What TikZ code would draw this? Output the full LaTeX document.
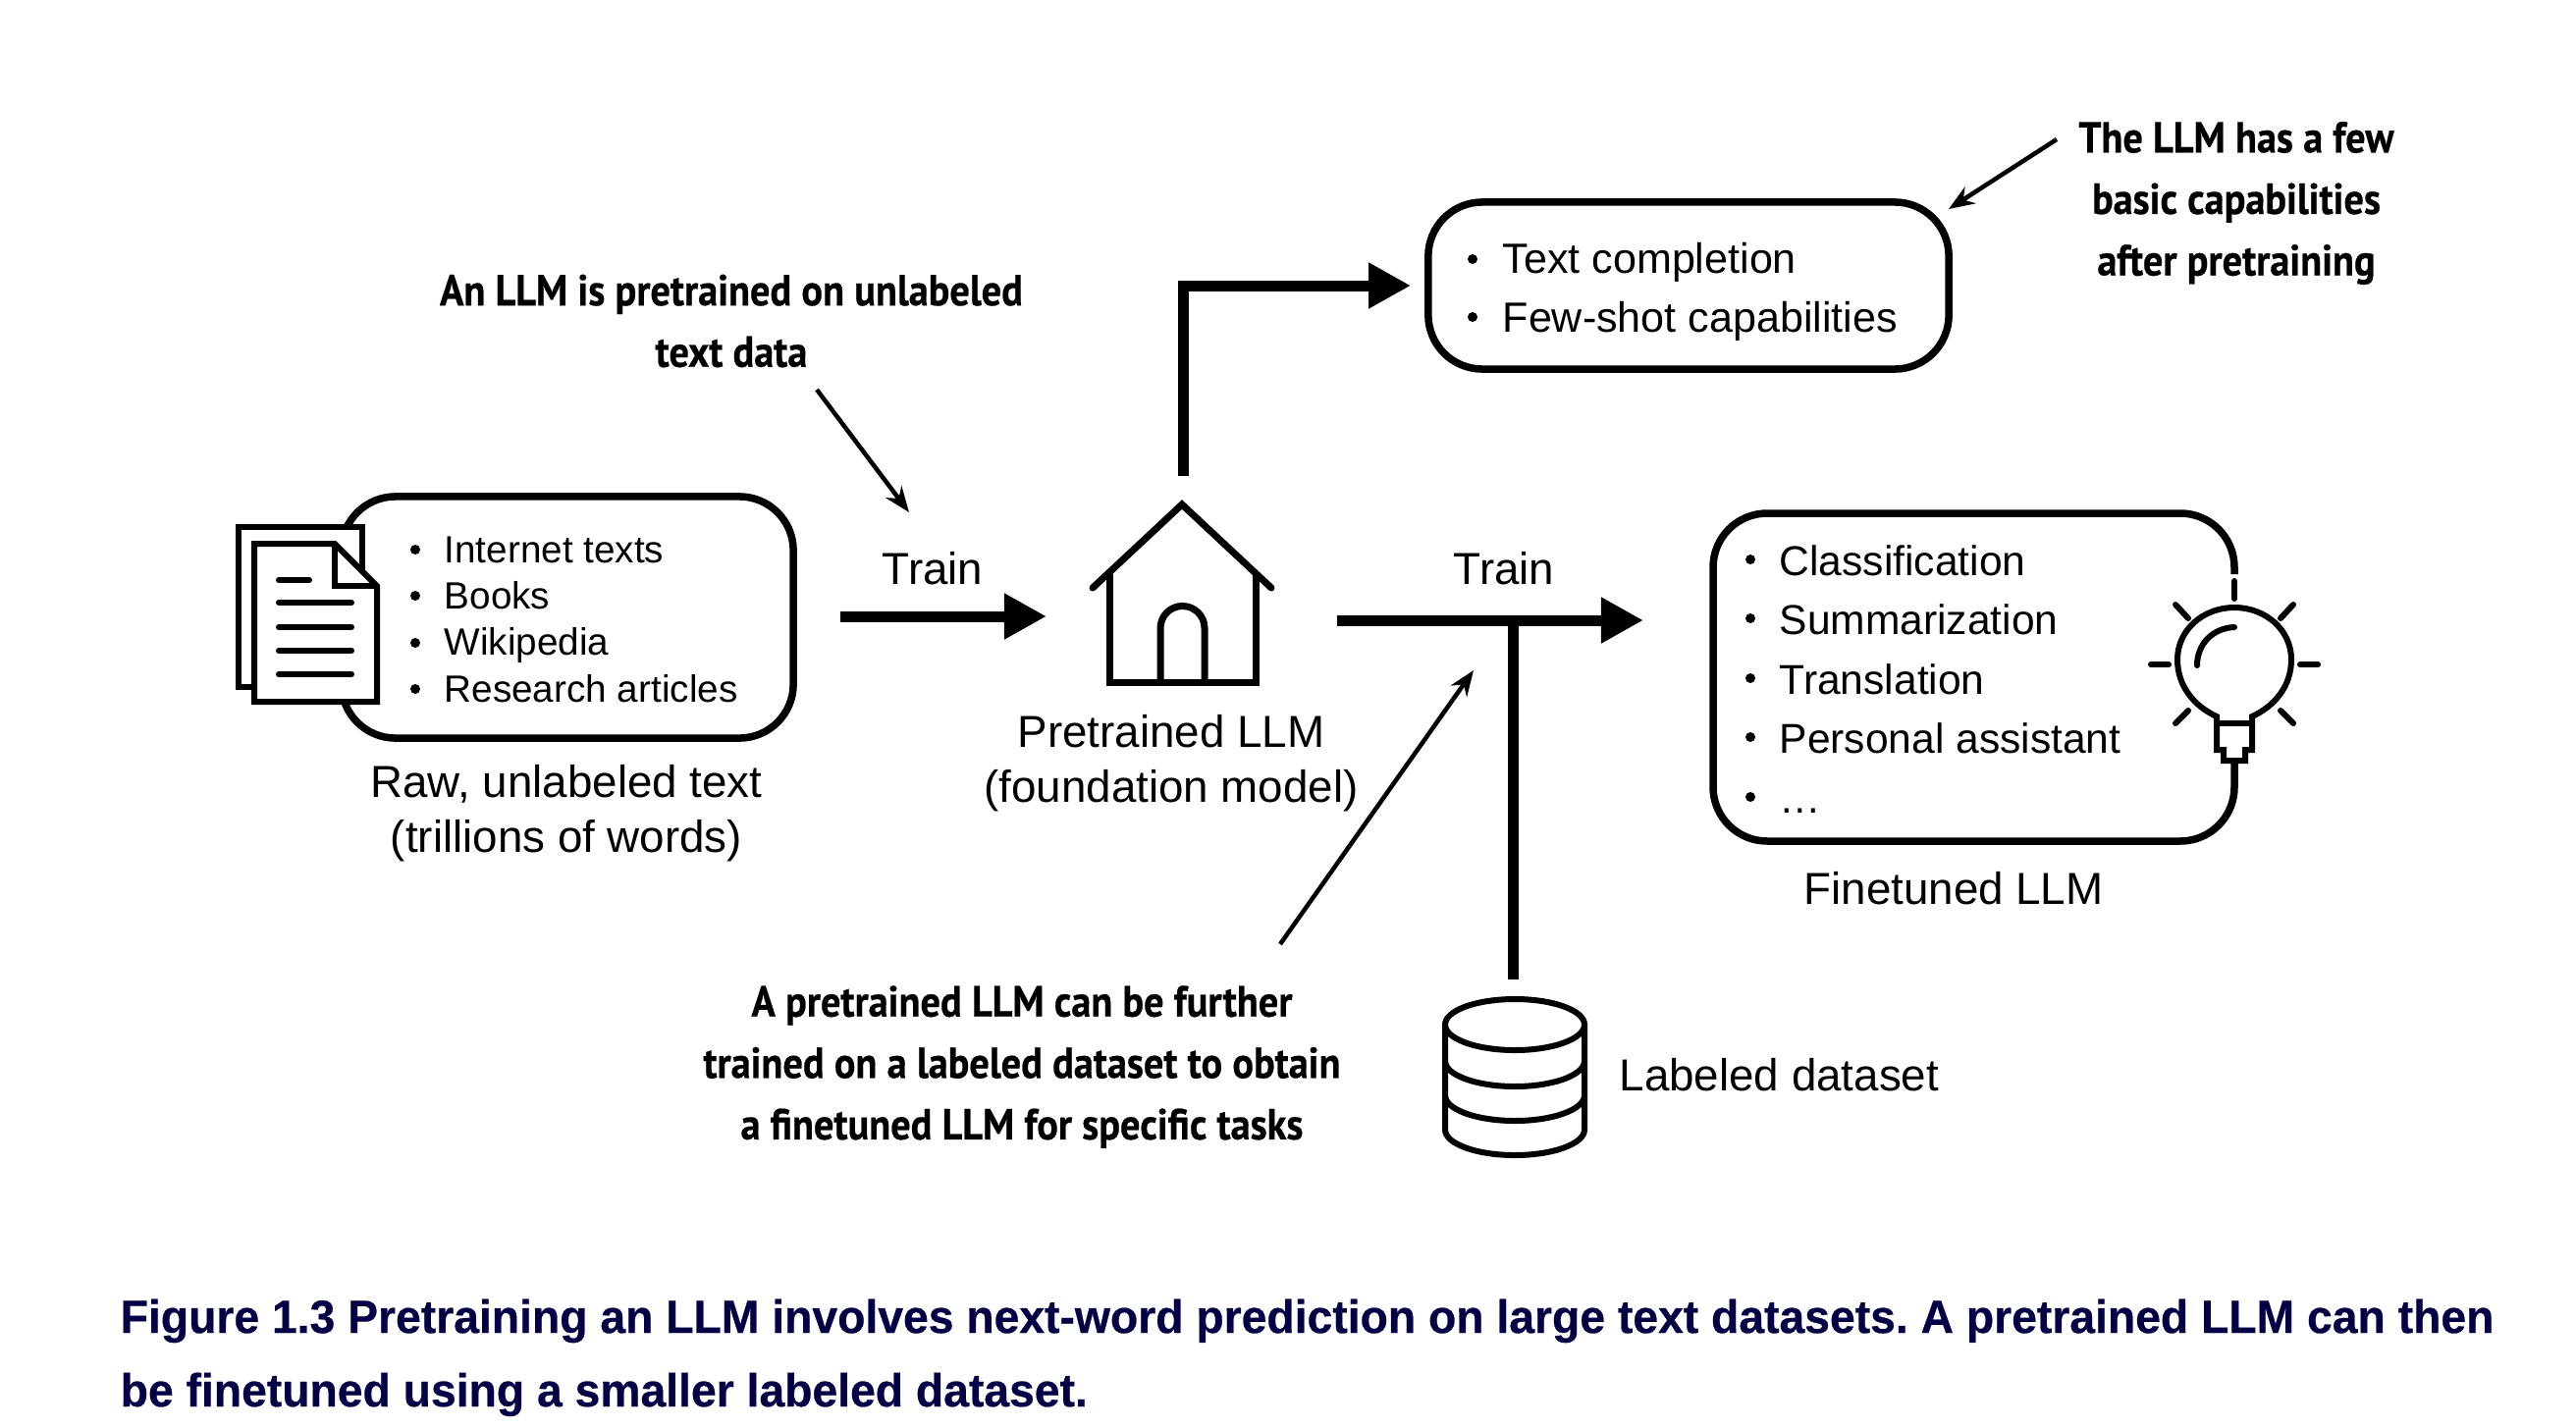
\documentclass[tikz,border=0pt]{standalone}
\usepackage{fontspec}
\setmainfont{Liberation Sans}
\newfontfamily\notefont[FakeStretch=0.91,FakeBold=0.5]{PT Sans Bold}
\newfontfamily\capfont[FakeStretch=0.975,FakeBold=0.5]{Liberation Sans Bold}
\usetikzlibrary{arrows.meta}
\definecolor{capblue}{RGB}{4,0,70}
\tikzset{
  lbl/.style={font=\fontsize{13}{16}\selectfont,align=center,inner sep=0pt},
  itm/.style={font=\fontsize{11}{14}\selectfont,anchor=base west,inner sep=0pt},
  itmb/.style={font=\fontsize{12.1}{14}\selectfont,anchor=base west,inner sep=0pt},
  itmc/.style={font=\fontsize{12.25}{14}\selectfont,anchor=base west,inner sep=0pt},
  dot/.style={circle,fill=black,inner sep=0pt,minimum size=0.1cm},
  note/.style={font=\notefont\fontsize{12.6}{17.8}\selectfont,align=center,inner sep=0pt},
  bigarr/.style={line width=0.11cm,-{Triangle[length=0.43cm,width=0.44cm]}},
  bigln/.style={line width=0.11cm},
  thinarr/.style={line width=0.045cm,-{Stealth[length=0.26cm,width=0.2cm]}},
  boxln/.style={line width=0.075cm,rounded corners=0.55cm},
  ico/.style={line width=0.06cm},
  hico/.style={line width=0.07cm},
}
\begin{document}
\frenchspacing
\begin{tikzpicture}[x=0.01cm,y=-0.01cm]
  \useasboundingbox (0,0) rectangle (2624,1454);
  % raw text box and pages
  \node (raw) [boxln,draw,minimum width=4.6cm,minimum height=2.46cm] at (578,629) {};
  \draw [ico,fill=white] (243,537) rectangle (369,700);
  \draw [ico,fill=white] (259,554) -- (341,554) -- (384,597) -- (384,715) -- (259,715) -- cycle;
  \draw [ico] (341,554) -- (341,597) -- (384,597);
  \draw [ico,line cap=round] (284,591) -- (315,591);
  \foreach \y in {614,639,663,687}
    \draw [ico,line cap=round] (284,\y) -- (358,\y);
  \foreach \y/\b/\t in {560/573/Internet texts,607/620/Books,655/667/Wikipedia,702/715/Research articles} {
    \node [dot] at (423,\y) {};
    \node [itm] at (452,\b) {\t};
  }
  \node (rawl) [lbl] at (577,829) {Raw, unlabeled text\\(trillions of words)};
  % house
  \coordinate (ha) at (1204,514);
  \draw [hico,line cap=round] (1113,599) -- (ha) -- (1295,599);
  \draw [hico] (1130,585) -- (1130,695) -- (1279,695) -- (1279,585);
  \draw [hico] (1182,695) -- (1182,640) arc (180:360:22.5) -- (1227,695);
  \node (hl) [lbl] at (1193,778) {Pretrained LLM\\(foundation model)};
  % top box
  \node (top) [boxln,draw,minimum width=5.3cm,minimum height=1.7cm] at (1720,291) {};
  \foreach \y/\b/\t in {264/278/Text completion,323/338/Few-shot capabilities} {
    \node [dot] at (1500,\y) {};
    \node [itmc] at (1530,\b) {\t};
  }
  % finetuned box, open where the bulb sits
  \draw [boxln] (2276,585) -- (2276,523) -- (1745,523) -- (1745,857) -- (2276,857) -- (2276,777);
  \foreach \y/\b/\t in {570/586/Classification,630/646/Summarization,691/707/Translation,751/767/Personal assistant,812/828/…} {
    \node [dot] at (1783,\y) {};
    \node [itmb] at (1812,\b) {\t};
  }
  \node (fl) [lbl] at (1990,905) {Finetuned LLM};
  % bulb
  \draw [ico] (2258,730) .. controls (2236,720) and (2218,700) .. (2218,672)
    .. controls (2218,642) and (2244,619) .. (2276,619)
    .. controls (2308,619) and (2334,642) .. (2334,672)
    .. controls (2334,700) and (2316,720) .. (2294,730)
    -- (2294,764) -- (2287,764) -- (2287,775) -- (2265,775) -- (2265,764) -- (2258,764) -- cycle;
  \draw [ico] (2258,737) -- (2294,737);
  \draw [ico,line cap=round] (2276,639) .. controls (2254,640) and (2238,656) .. (2238,678);
  \foreach \a/\b/\c/\d in {2276/592/2276/610,2343/677/2361/677,2191/677/2209/677,2323/630/2336/616,2229/630/2216/616,2229/724/2216/737,2323/724/2336/737}
    \draw [ico,line cap=round] (\a,\b) -- (\c,\d);
  % cylinder
  \draw [ico] (1543,1044) ellipse (71 and 26);
  \draw [ico] (1472,1044) -- (1472,1151) arc (180:0:71 and 26) -- (1614,1044);
  \draw [ico] (1472,1081) arc (180:0:71 and 26);
  \draw [ico] (1472,1116) arc (180:0:71 and 26);
  \coordinate (cyl) at (1541,998);
  \node (dsl) [lbl,anchor=west] at (1649,1095) {Labeled dataset};
  % big arrows
  \coordinate (a1) at (856,628);
  \coordinate (a2) at (1066,628);
  \draw [bigarr] (a1) -- (a2);
  \node (tr1) [lbl] at (950,579) {Train};
  \coordinate (b1) at (1205,485);
  \coordinate (b2) at (1205,291);
  \draw [bigarr,line join=miter,shorten >=0.14cm] (b1) -- (b2) -- (top.west);
  \coordinate (c1) at (1362,632);
  \coordinate (c2) at (1674,632);
  \coordinate (c3) at (cyl |- c1);
  \draw [bigarr] (c1) -- (c2);
  \draw [bigln] (cyl) -- (c3);
  \node (tr2) [lbl] at (1532,579) {Train};
  % notes
  \node (n1) [note] at (745,327) {An LLM is pretrained on unlabeled\\text data};
  \node (n2) [note] at (2278,207) {The LLM has a few\\basic capabilities\\after pretraining};
  \node (n3) [note] at (1041,1087) {A pretrained LLM can be further\\trained on a labeled dataset to obtain\\a finetuned LLM for specific tasks};
  \coordinate (p1) at (832,397);
  \coordinate (p2) at (926,522);
  \coordinate (q1) at (2095,142);
  \coordinate (q2) at (1985,213);
  \coordinate (r1) at (1304,962);
  \coordinate (r2) at (1501,683);
  \draw [thinarr] (p1) -- (p2);
  \draw [thinarr] (q1) -- (q2);
  \draw [thinarr] (r1) -- (r2);
  % caption
  \node (cap) [anchor=north west,inner sep=0pt,text=capblue,align=left,font=\capfont\fontsize{13.5}{21.3}\selectfont] at (122,1323) {Figure 1.3 Pretraining an LLM involves next-word prediction on large text datasets. A pretrained LLM can then\\be finetuned using a smaller labeled dataset.};
\end{tikzpicture}
\end{document}
